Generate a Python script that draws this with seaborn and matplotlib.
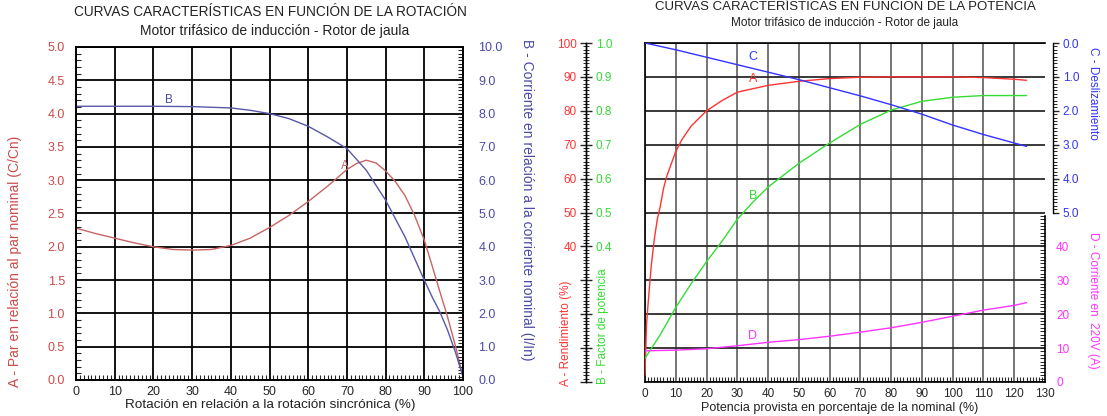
import numpy as np
import pandas as pd
import matplotlib
matplotlib.use("Agg")
import matplotlib.pyplot as plt
import seaborn as sns
from matplotlib.ticker import MultipleLocator, FixedLocator, FuncFormatter

# =========================
# Data - rotation chart
# =========================
rot_a = [0, 5, 10, 15, 20, 25, 30, 35, 40, 45, 50, 55, 60, 65, 70, 72.5, 75, 77.5,
         80, 82.5, 85, 87.5, 90, 92, 94, 96, 98, 100]
par_a = [2.28, 2.2, 2.13, 2.06, 2.0, 1.96, 1.95, 1.96, 2.02, 2.13, 2.29, 2.47, 2.68,
         2.91, 3.16, 3.25, 3.3, 3.26, 3.14, 2.98, 2.77, 2.47, 2.1, 1.72, 1.33, 0.95, 0.52, 0.05]

rot_b = [0, 10, 20, 30, 40, 45, 50, 55, 60, 65, 70, 75, 80, 85, 90, 92, 94, 96, 98, 100]
corr_b = [8.22, 8.22, 8.22, 8.21, 8.17, 8.1, 8.0, 7.85, 7.62, 7.3, 6.95, 6.3, 5.4,
          4.3, 3.0, 2.5, 2.05, 1.5, 0.85, 0.1]

# =========================
# Data - power chart
# =========================
pot_a = [0, 0.5, 1, 2, 3, 4, 5, 6, 7, 8, 10, 12, 15, 20, 25, 30, 40, 50, 60, 70,
         80, 90, 100, 110, 120, 124]
rend_a = [2, 17, 23, 34, 42, 48, 52, 57, 60.5, 63, 68, 71.5, 75.5, 80, 83, 85.5,
          87.5, 88.7, 89.5, 89.9, 90, 90, 90, 89.8, 89.3, 89]

pot_b = [0, 5, 10, 15, 20, 25, 30, 35, 40, 50, 60, 70, 80, 90, 100, 110, 120, 124]
fp_b = [0.07, 0.14, 0.22, 0.29, 0.355, 0.415, 0.48, 0.53, 0.575, 0.645, 0.705,
        0.76, 0.802, 0.828, 0.84, 0.845, 0.845, 0.845]

pot_c = [0, 10, 20, 30, 40, 50, 60, 70, 80, 90, 100, 110, 120, 124]
desl_c = [0, 0.2, 0.42, 0.64, 0.86, 1.08, 1.32, 1.56, 1.82, 2.1, 2.42, 2.7, 2.95, 3.05]

pot_d = [0, 10, 20, 30, 40, 50, 60, 70, 80, 90, 100, 110, 120, 124]
corr_d = [9.2, 9.4, 9.8, 10.7, 11.7, 12.5, 13.5, 14.7, 16, 17.6, 19.4, 21.2, 22.6, 23.4]

# =========================
# Style
# =========================
sns.set_theme(style="white")
plt.rcParams['font.family'] = ['Liberation Sans', 'DejaVu Sans']
plt.rcParams['axes.edgecolor'] = 'black'
plt.rcParams['axes.linewidth'] = 1.2

W, H = 1107, 416
fig = plt.figure(figsize=(W / 100, H / 100), dpi=100)
fig.patch.set_facecolor('white')

red1 = '#cc4a4a'
blue1 = '#4a4aa8'
fs = 8.5

# =========================
# Left chart
# =========================
ax1 = fig.add_axes([76 / W, 1 - 380 / H, (463 - 76) / W, (380 - 47) / H])
ax1.set_xlim(0, 100)
ax1.set_ylim(0, 5)
ax1.set_xticks(range(0, 101, 10))
ax1.set_yticks(np.arange(0, 5.01, 0.5))
ax1.yaxis.set_major_formatter(FuncFormatter(lambda v, p: f"{v:.1f}"))
ax1.xaxis.set_minor_locator(MultipleLocator(1))
ax1.yaxis.set_minor_locator(MultipleLocator(0.1))
ax1.grid(True, color='black', lw=1.3)
ax1.tick_params(axis='x', which='major', direction='in', length=0, labelsize=fs + 0.5, pad=4)
ax1.tick_params(axis='y', which='major', direction='in', length=0, labelsize=fs + 0.5,
                labelcolor=red1, pad=8)
ax1.tick_params(which='minor', direction='in', length=3.5, width=0.8,
                bottom=True, left=True)

ax1b = ax1.twinx()
ax1b.set_ylim(0, 10)
ax1b.set_yticks(range(0, 11))
ax1b.yaxis.set_major_formatter(FuncFormatter(lambda v, p: f"{v:.1f}"))
ax1b.yaxis.set_minor_locator(MultipleLocator(0.1))
ax1b.tick_params(axis='y', which='major', direction='in', length=0, labelsize=fs + 0.5,
                 labelcolor=blue1, pad=11)
ax1b.tick_params(axis='y', which='minor', direction='in', length=3.5, width=0.8, right=True)
ax1b.grid(False)

sns.lineplot(x=rot_a, y=par_a, ax=ax1, color='#c86464', lw=1, sort=False, estimator=None)
sns.lineplot(x=rot_b, y=corr_b, ax=ax1b, color='#5858a8', lw=1, sort=False, estimator=None)
ax1.text(69.5, 3.22, "A", color='#c86464', fontsize=8.5, ha='center', va='center')
ax1b.text(24, 8.4, "B", color=blue1, fontsize=8.5, ha='center', va='center')

fig.text(270 / W, 1 - 12 / H, "CURVAS CARACTERÍSTICAS EN FUNCIÓN DE LA ROTACIÓN",
         ha='center', va='center', fontsize=9.8, color='#222222')
fig.text(275 / W, 1 - 31 / H, "Motor trifásico de inducción - Rotor de jaula",
         ha='center', va='center', fontsize=10, color='#222222')
fig.text(270 / W, 1 - 405 / H, "Rotación en relación a la rotación sincrónica (%)",
         ha='center', va='center', fontsize=9.7, color='#222222')
fig.text(15 / W, 1 - 261 / H, "A - Par en relación al par nominal (C/Cn)",
         ha='center', va='center', rotation=90, fontsize=10, color=red1)
fig.text(527 / W, 1 - 200 / H, "B - Corriente en relación a la corriente nominal (I/In)",
         ha='center', va='center', rotation=270, fontsize=10, color=blue1)

# =========================
# Right chart
# =========================
c_red = '#ff3333'
c_green = '#33dd33'
c_blue = '#3333ff'
c_mag = '#ff33ff'

x0, x1, yt, yb = 645, 1045, 43, 382
ax2 = fig.add_axes([x0 / W, 1 - yb / H, (x1 - x0) / W, (yb - yt) / H])
ax2.set_xlim(0, 130)
ax2.set_ylim(0, 100)
ax2.set_xticks(range(0, 131, 10))
ax2.set_yticks(range(0, 101, 10))
ax2.xaxis.set_minor_locator(MultipleLocator(1))
ax2.yaxis.grid(True, color='#2a2a2a', lw=1.3)
ax2.xaxis.grid(True, color='#6a6a6a', lw=1.3)
ax2.get_xgridlines()[-1].set_visible(False)
ax2.spines['right'].set_visible(False)
ax2.tick_params(axis='x', which='major', direction='in', length=0, labelsize=fs, pad=4)
ax2.tick_params(axis='x', which='minor', direction='in', length=3.5, width=0.8, bottom=True)
ax2.tick_params(axis='y', which='both', length=0, labelleft=False)

off = (586 - x0) / (x1 - x0)

# red axis (rendimiento), detached on the left
ax_r = ax2.twinx()
ax_r.set_ylim(0, 100)
for s in ['top', 'right', 'bottom']:
    ax_r.spines[s].set_visible(False)
ax_r.spines['left'].set_visible(True)
ax_r.spines['left'].set_position(('axes', off))
ax_r.spines['left'].set_linewidth(1)
ax_r.yaxis.tick_left()
ax_r.set_yticks(range(0, 101, 10))
ax_r.yaxis.set_major_formatter(FuncFormatter(lambda v, p: f"{v:.0f}" if v >= 40 else ""))
ax_r.yaxis.set_minor_locator(MultipleLocator(1))
ax_r.tick_params(axis='y', which='major', direction='out', length=4, width=1,
                 labelsize=fs, labelcolor=c_red, pad=2.5)
ax_r.tick_params(axis='y', which='minor', direction='out', length=2.5, width=0.7)
ax_r.grid(False)

# green axis (factor de potencia), same detached line, labels to the right
ax_g = ax2.twinx()
ax_g.set_ylim(0, 1)
for s in ['top', 'left', 'bottom']:
    ax_g.spines[s].set_visible(False)
ax_g.spines['right'].set_position(('axes', off))
ax_g.spines['right'].set_linewidth(1)
ax_g.set_yticks(np.arange(0, 1.01, 0.1))
ax_g.yaxis.set_major_formatter(FuncFormatter(lambda v, p: f"{v:.1f}" if v >= 0.39 else ""))
ax_g.yaxis.set_minor_locator(MultipleLocator(0.01))
ax_g.tick_params(axis='y', which='major', direction='out', length=4, width=1,
                 labelsize=fs, labelcolor=c_green, pad=3)
ax_g.tick_params(axis='y', which='minor', direction='out', length=2.5, width=0.7)
ax_g.grid(False)

# blue axis (deslizamiento), top half on the right
ax_c = ax2.twinx()
ax_c.set_ylim(10, 0)
for s in ['top', 'left', 'bottom']:
    ax_c.spines[s].set_visible(False)
ax_c.spines['right'].set_position(('axes', (1053 - x0) / (x1 - x0)))
ax_c.spines['right'].set_bounds(0, 5)
ax_c.spines['right'].set_linewidth(1)
ax_c.yaxis.set_major_locator(FixedLocator([0, 1, 2, 3, 4, 5]))
ax_c.yaxis.set_minor_locator(FixedLocator(np.arange(0, 5.01, 0.1)))
ax_c.yaxis.set_major_formatter(FuncFormatter(lambda v, p: f"{v:.1f}"))
ax_c.tick_params(axis='y', which='major', direction='out', length=4, width=1,
                 labelsize=fs, labelcolor=c_blue, pad=3)
ax_c.tick_params(axis='y', which='minor', direction='out', length=3, width=0.7)
ax_c.grid(False)

# magenta axis (corriente), bottom half on the right
ax_d = ax2.twinx()
ax_d.set_ylim(0, 100)
for s in ['top', 'left', 'bottom']:
    ax_d.spines[s].set_visible(False)
ax_d.spines['right'].set_bounds(0, 49)
ax_d.spines['right'].set_linewidth(1.2)
ax_d.yaxis.set_major_locator(FixedLocator([0, 10, 20, 30, 40]))
ax_d.yaxis.set_minor_locator(FixedLocator(np.arange(0, 49.1, 1)))
ax_d.tick_params(axis='y', which='major', direction='in', length=3.5, width=0.8,
                 labelsize=fs, labelcolor=c_mag, pad=8)
ax_d.tick_params(axis='y', which='minor', direction='in', length=3.5, width=0.7)
ax_d.grid(False)

sns.lineplot(x=pot_a, y=rend_a, ax=ax_r, color=c_red, lw=1, sort=False, estimator=None)
sns.lineplot(x=pot_b, y=fp_b, ax=ax_g, color=c_green, lw=1, sort=False, estimator=None)
sns.lineplot(x=pot_c, y=desl_c, ax=ax_c, color=c_blue, lw=1, sort=False, estimator=None)
sns.lineplot(x=pot_d, y=corr_d, ax=ax_d, color=c_mag, lw=1, sort=False, estimator=None)
for a in (ax_r, ax_g, ax_c, ax_d):
    a.set_xlim(0, 130)
    a.set_ylabel("")

ax_c.text(35, 0.41, "C", color=c_blue, fontsize=9, ha='center', va='center')
ax_r.text(35, 89.5, "A", color=c_red, fontsize=9, ha='center', va='center')
ax_g.text(35, 0.55, "B", color=c_green, fontsize=9, ha='center', va='center')
ax_d.text(35, 13.7, "D", color=c_mag, fontsize=9, ha='center', va='center')

fig.text(845 / W, 1 - 7 / H, "CURVAS CARACTERÍSTICAS EN FUNCIÓN DE LA POTENCIA",
         ha='center', va='center', fontsize=9.5, color='#222222')
fig.text(845 / W, 1 - 23 / H, "Motor trifásico de inducción - Rotor de jaula",
         ha='center', va='center', fontsize=8.5, color='#222222')
fig.text(840 / W, 1 - 408 / H, "Potencia provista en porcentaje de la nominal (%)",
         ha='center', va='center', fontsize=9, color='#222222')
fig.text(566 / W, 1 - 333 / H, "A - Rendimiento (%)", ha='center', va='center',
         rotation=90, fontsize=8.5, color=c_red)
fig.text(603 / W, 1 - 326 / H, "B - Factor de potencia", ha='center', va='center',
         rotation=90, fontsize=8.5, color=c_green)
fig.text(1093 / W, 1 - 93 / H, "C - Deslizamiento", ha='center', va='center',
         rotation=270, fontsize=8.5, color=c_blue)
fig.text(1093 / W, 1 - 300 / H, "D - Corriente en  220V (A)", ha='center', va='center',
         rotation=270, fontsize=8.5, color=c_mag)

fig.savefig("out.png", dpi=100)
